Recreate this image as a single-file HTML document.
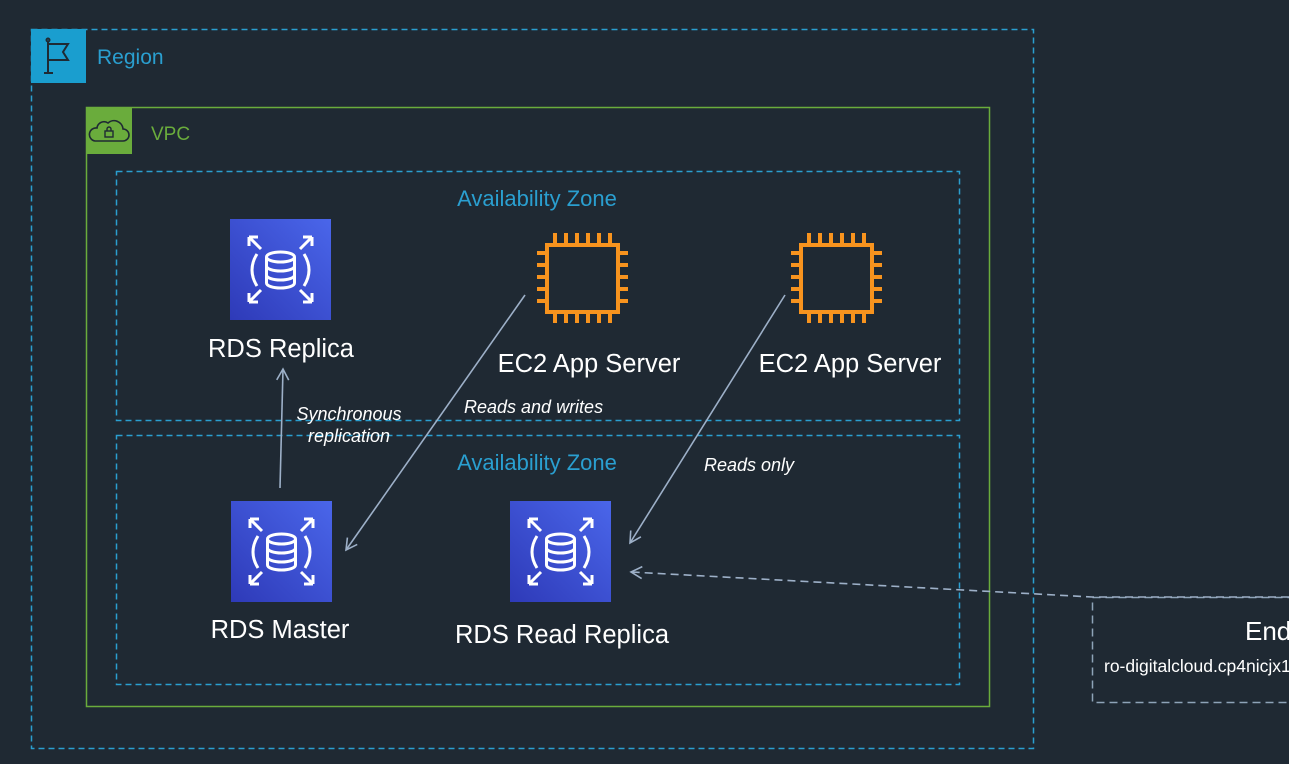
<!DOCTYPE html>
<html><head><meta charset="utf-8"><style>
html,body{margin:0;padding:0;background:#1f2933;}
svg{display:block;font-family:"Liberation Sans",sans-serif;}
</style></head><body>
<svg width="1289" height="764" viewBox="0 0 1289 764" xmlns="http://www.w3.org/2000/svg">
<defs>
<linearGradient id="rg" x1="0" y1="1" x2="1" y2="0"><stop offset="0" stop-color="#2e3ab8"/><stop offset="1" stop-color="#4a66ea"/></linearGradient>
<g id="rds">
<rect width="101" height="101" fill="url(#rg)"/>
<g fill="none" stroke="#fff" stroke-width="3">
<ellipse cx="50.5" cy="38" rx="14" ry="5"/>
<path d="M36.5 38v26a14 5 0 0 0 28 0V38M36.5 47a14 5 0 0 0 28 0M36.5 56a14 5 0 0 0 28 0"/>
<path d="M27 35q-10 16 0 32M74 35q10 16 0 32"/>
<path d="M19 18l12 12M19 18h9M19 18v9M82 18l-12 12M82 18h-9M82 18v9M19 83l12-12M19 83h9M19 83v-9M82 83l-12-12M82 83h-9M82 83v-9"/>
</g></g>
<g id="ec2" fill="none" stroke="#f7931e" stroke-width="4">
<rect x="10" y="12" width="71" height="67"/>
<path d="M18 0v12M29 0v12M40 0v12M51 0v12M62 0v12M73 0v12M18 79v11M29 79v11M40 79v11M51 79v11M62 79v11M73 79v11M0 20h10M0 32h10M0 44h10M0 56h10M0 68h10M81 20h10M81 32h10M81 44h10M81 56h10M81 68h10"/>
</g>
<marker id="ah" markerWidth="14" markerHeight="14" refX="12" refY="7" orient="auto" markerUnits="userSpaceOnUse"><path d="M1 1L12 7L1 13" fill="none" stroke="#9db0c8" stroke-width="1.6"/></marker>
</defs>
<!-- Region -->
<rect x="31.5" y="29.5" width="1002" height="719" fill="none" stroke="#2a9fd0" stroke-width="1.5" stroke-dasharray="6,4"/>
<rect x="31" y="29" width="55" height="54" fill="#1a9ecf"/>
<g fill="none" stroke="#1f2a33" stroke-width="2"><path d="M48 42v31M44 73h9M48 44h20l-5 8 5 8H48"/><circle cx="48" cy="40" r="1.5"/></g>
<text x="97" y="64" font-size="21" fill="#2a9fd0">Region</text>
<!-- VPC -->
<rect x="86.5" y="107.5" width="903" height="599" fill="none" stroke="#6aac3c" stroke-width="1.5"/>
<rect x="86" y="107" width="46" height="47" fill="#6aac3c"/>
<path d="M95 141h28a6 6 0 0 0 0-12 9 9 0 0 0-15-6 7 7 0 0 0-11 5 6 6 0 0 0-2 13z" fill="none" stroke="#1f2a33" stroke-width="1.6"/>
<rect x="105" y="131" width="8" height="6" fill="none" stroke="#1f2a33" stroke-width="1.4"/><path d="M107 131v-2a2 2 0 0 1 4 0v2" fill="none" stroke="#1f2a33" stroke-width="1.4"/>
<text x="151" y="140" font-size="19" fill="#6aac3c">VPC</text>
<!-- AZs -->
<rect x="116.5" y="171.5" width="843" height="249" fill="none" stroke="#2a9fd0" stroke-width="1.5" stroke-dasharray="6,4"/>
<rect x="116.5" y="435.5" width="843" height="249" fill="none" stroke="#2a9fd0" stroke-width="1.5" stroke-dasharray="6,4"/>
<text x="537" y="206" font-size="22" fill="#2a9fd0" text-anchor="middle">Availability Zone</text>
<text x="537" y="470" font-size="22" fill="#2a9fd0" text-anchor="middle">Availability Zone</text>
<!-- endpoint -->
<rect x="1092.5" y="597.5" width="220" height="105" fill="none" stroke="#8ea3b8" stroke-width="1.5" stroke-dasharray="8,5"/>
<text x="1245" y="640" font-size="26" fill="#fff">End</text>
<text x="1104" y="672" font-size="17.5" fill="#fff">ro-digitalcloud.cp4nicjx1s</text>
<!-- icons -->
<use href="#rds" x="230" y="219"/>
<use href="#rds" x="231" y="501"/>
<use href="#rds" x="510" y="501"/>
<use href="#ec2" x="537" y="233"/>
<use href="#ec2" x="791" y="233"/>
<!-- labels -->
<g fill="#fff" font-size="25.5" text-anchor="middle">
<text x="281" y="357">RDS Replica</text>
<text x="589" y="372">EC2 App Server</text>
<text x="850" y="372">EC2 App Server</text>
<text x="280" y="638">RDS Master</text>
<text x="562" y="643">RDS Read Replica</text>
</g>
<g fill="#fff" font-size="18" font-style="italic">
<text x="349" y="420" text-anchor="middle">Synchronous</text>
<text x="349" y="442" text-anchor="middle">replication</text>
<text x="464" y="413">Reads and writes</text>
<text x="704" y="471">Reads only</text>
</g>
<!-- connectors -->
<g stroke="#9db0c8" stroke-width="1.6" fill="none">
<line x1="280" y1="488" x2="283" y2="369" marker-end="url(#ah)"/>
<line x1="525" y1="295" x2="346" y2="550" marker-end="url(#ah)"/>
<line x1="785" y1="295" x2="630" y2="543" marker-end="url(#ah)"/>
<path d="M1289 597H1092L631 572" stroke-dasharray="8,5" marker-end="url(#ah)"/>
</g>
</svg>
</body></html>
